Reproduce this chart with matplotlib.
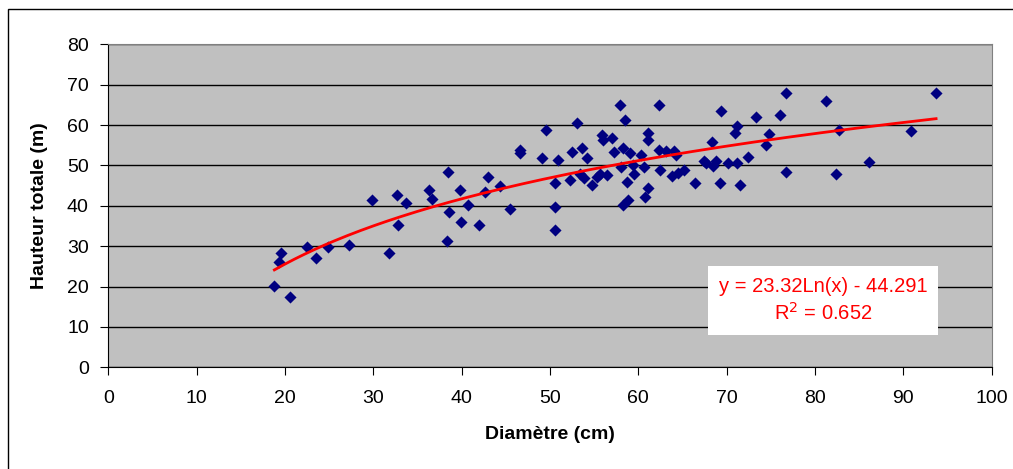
import numpy as np
import matplotlib.pyplot as plt
from matplotlib.patches import Rectangle

plt.rcParams['font.family'] = ['Liberation Sans', 'DejaVu Sans']

# Diameter (cm) and total height (m)
diametre = [18.8, 19.3, 19.5, 20.6, 22.5, 23.5, 24.9, 27.2, 29.8, 31.8,
            32.7, 32.8, 33.7, 36.3, 36.6, 38.5, 38.3, 38.6, 39.8, 39.9,
            40.7, 42.0, 42.6, 43.0, 44.3, 45.5, 46.6, 46.6, 49.1, 49.6,
            50.6, 50.6, 50.6, 50.9, 52.3, 52.5, 53.0, 53.6, 53.4, 53.8,
            54.2, 54.7, 55.3, 55.7, 55.9, 56.0, 56.4, 57.0, 57.2, 57.9,
            58.0, 58.3, 58.5, 58.3, 58.8, 58.7, 59.1, 59.4, 59.5, 60.3,
            60.6, 60.8, 61.1, 61.1, 61.1, 62.3, 62.3, 62.4, 63.1, 63.8,
            64.0, 64.3, 64.5, 65.2, 66.4, 67.4, 67.7, 68.3, 68.4, 68.8,
            69.2, 69.4, 70.1, 70.9, 71.2, 71.2, 71.5, 72.4, 73.3, 74.5,
            74.8, 76.0, 76.7, 76.7, 81.2, 82.4, 82.7, 86.1, 90.9, 93.7]
hauteur = [20.2, 26.2, 28.2, 17.3, 29.9, 27.2, 29.8, 30.2, 41.4, 28.2,
           42.8, 35.2, 40.6, 43.9, 41.8, 48.5, 31.4, 38.5, 43.9, 36.1,
           40.1, 35.2, 43.5, 47.2, 44.9, 39.3, 53.8, 53.0, 51.8, 58.8,
           45.6, 39.8, 33.9, 51.3, 46.4, 53.4, 60.4, 54.2, 48.0, 46.8,
           51.8, 45.2, 47.2, 47.9, 57.5, 56.3, 47.6, 56.7, 53.4, 65.0,
           49.7, 54.2, 61.3, 40.2, 41.4, 46.0, 53.0, 50.1, 48.0, 52.6,
           49.7, 42.3, 58.1, 56.3, 44.3, 65.0, 53.8, 48.9, 53.6, 47.5,
           53.6, 52.6, 48.2, 48.9, 45.6, 51.1, 50.5, 55.9, 49.9, 51.1,
           45.6, 63.4, 50.5, 58.0, 59.8, 50.5, 45.2, 52.2, 62.1, 55.0,
           57.7, 62.6, 68.0, 48.5, 65.9, 48.0, 58.8, 50.9, 58.5, 68.0]

# logarithmic trendline shown on the chart
coef_a = 23.32
coef_b = -44.291
equation = 'y = 23.32Ln(x) - 44.291\nR$^2$ = 0.652'

fig = plt.figure(figsize=(10.13, 4.69), dpi=100)
ax = fig.add_axes([0.1069, 0.2168, 0.979 - 0.1069, 0.9055 - 0.2168])
ax.set_facecolor('#C0C0C0')

ax.set_xlim(0, 100)
ax.set_ylim(0, 80)
ax.set_xticks(np.arange(0, 101, 10))
ax.set_yticks(np.arange(0, 81, 10))
ax.grid(axis='y', color='black', linewidth=1)
ax.set_axisbelow(True)

ax.scatter(diametre, hauteur, marker='D', s=38, color='#000080', zorder=3, linewidths=0)

xs = np.linspace(min(diametre), max(diametre), 200)
ax.plot(xs, coef_a * np.log(xs) + coef_b, color='red', linewidth=2, zorder=4)

ax.text(80.9, 16.6, equation, color='red', fontsize=14.5, ha='center', va='center',
        linespacing=1.35, zorder=5,
        bbox=dict(facecolor='white', edgecolor='none', pad=8))

for s in ['top', 'right']:
    ax.spines[s].set_color('#808080')
for s in ['left', 'bottom']:
    ax.spines[s].set_color('black')
ax.tick_params(direction='out', length=6, labelsize=14, colors='black')
ax.tick_params(axis='x', pad=10)
ax.tick_params(axis='y', pad=8)

ax.set_xlabel('Diamètre (cm)', fontsize=14, fontweight='bold', labelpad=14)
ax.set_ylabel('Hauteur totale (m)', fontsize=14, fontweight='bold', labelpad=14)

# outer chart border
fig.patches.append(Rectangle((8 / 1013, -0.1), 1.2, 0.1 + (469 - 9) / 469,
                             transform=fig.transFigure, fill=False,
                             edgecolor='black', linewidth=1))

fig.savefig('out.png', dpi=100)
